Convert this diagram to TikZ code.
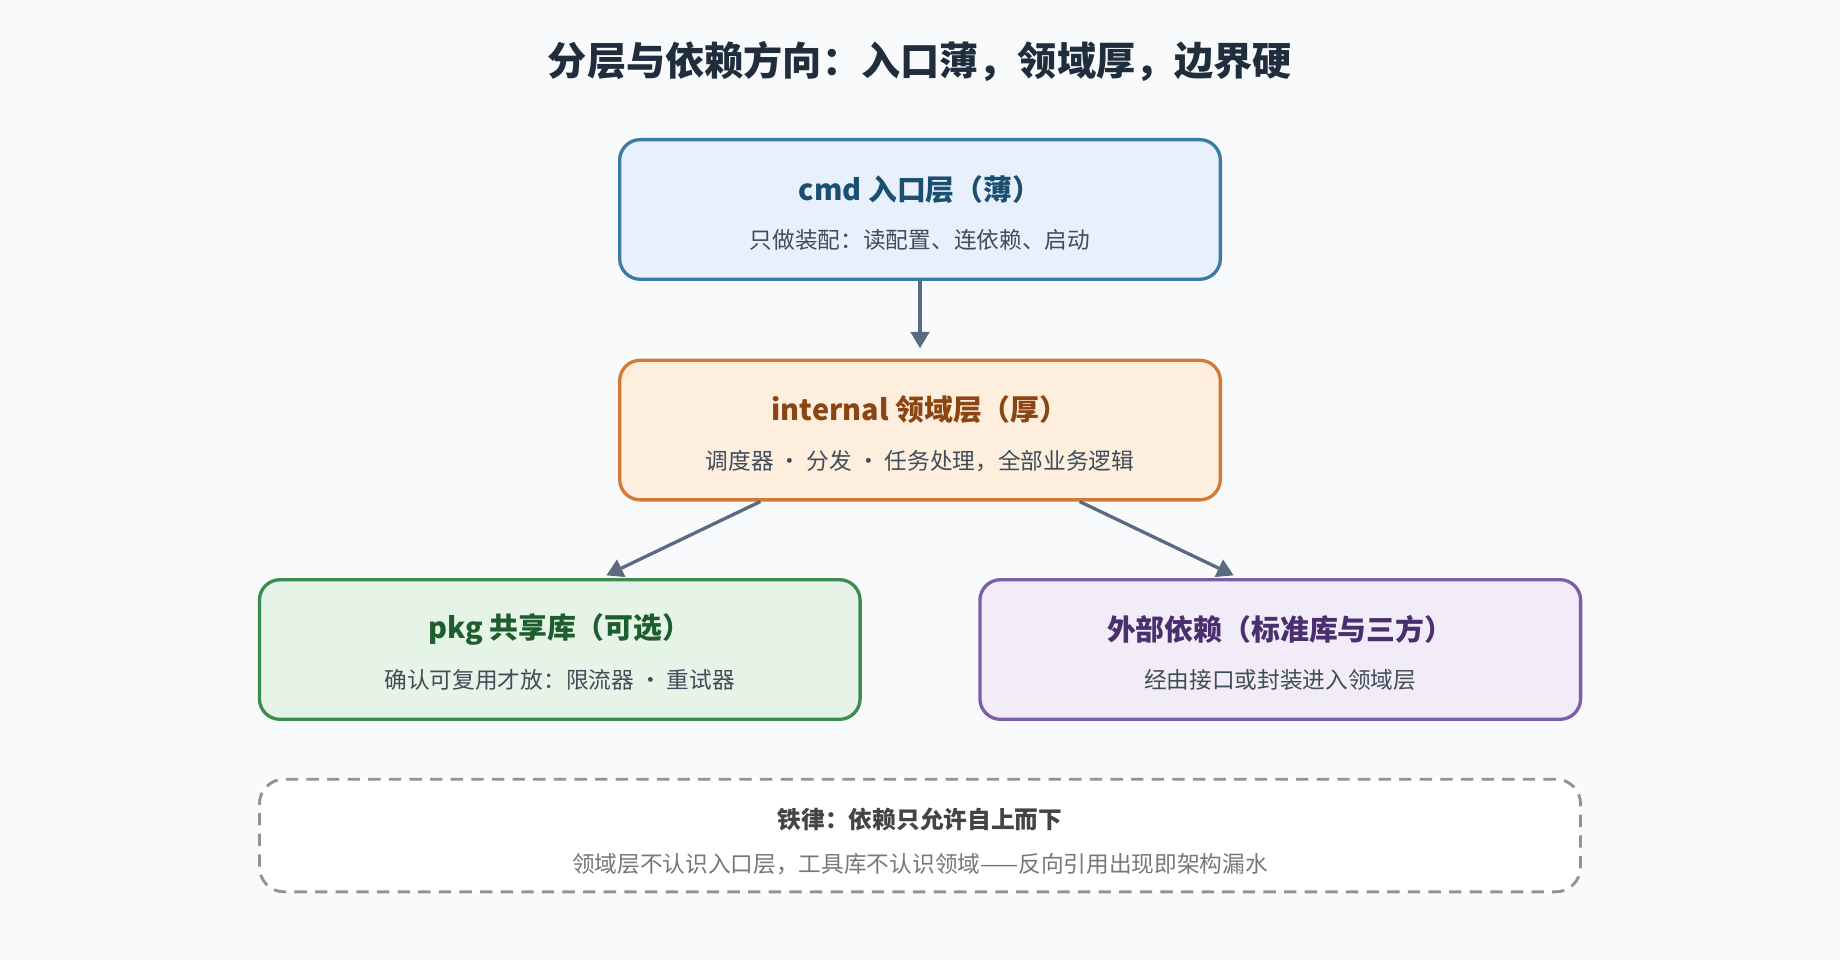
\documentclass[tikz,border=0pt]{standalone}
\usepackage{fontspec}
\setmainfont{Noto Sans CJK SC}
\usetikzlibrary{positioning,arrows.meta}
\definecolor{bgc}{HTML}{F8FAFC}
\definecolor{ink}{HTML}{1F2D3D}
\definecolor{arr}{HTML}{5A6A80}
\definecolor{cmdline}{HTML}{3A7CA5}\definecolor{cmdfill}{HTML}{E8F0FB}\definecolor{cmdtext}{HTML}{1A4F72}
\definecolor{intline}{HTML}{D07A35}\definecolor{intfill}{HTML}{FDEEDE}\definecolor{inttext}{HTML}{8B4513}
\definecolor{pkgline}{HTML}{3D8B4F}\definecolor{pkgfill}{HTML}{E6F4E8}\definecolor{pkgtext}{HTML}{1E5E2E}
\definecolor{extline}{HTML}{7B5EA7}\definecolor{extfill}{HTML}{F1ECF7}\definecolor{exttext}{HTML}{4A2F6F}
\definecolor{rulettl}{HTML}{444444}\definecolor{rulesub}{HTML}{777777}
\tikzset{
  layer/.style={draw, line width=1.6pt, rounded corners=10pt, minimum width=10.24cm, minimum height=2.38cm},
  ttl/.style={font=\fontsize{14}{16}\selectfont\bfseries},
  sub/.style={font=\fontsize{11}{13}\selectfont, text=ink!85},
  dep/.style={draw=arr, line width=1.6pt, -{Triangle[length=8pt,width=9pt]}}
}
\begin{document}
\begin{tikzpicture}[x=0.02cm,y=0.02cm]
\fill[bgc] (0,0) rectangle (1568,818);
\node[font=\fontsize{19}{22}\selectfont\bfseries, text=ink] (title) at (784,766) {分层与依赖方向：入口薄，领域厚，边界硬};
% layers
\node[layer, draw=cmdline, fill=cmdfill] (cmd) at (784,639.5) {};
\node[layer, draw=intline, fill=intfill] (internal) at (784,451.5) {};
\node[layer, draw=pkgline, fill=pkgfill] (pkg) at (477,264.5) {};
\node[layer, draw=extline, fill=extfill] (ext) at (1091,264.5) {};
\node[draw=gray!85, dash pattern=on 6pt off 4pt, line width=1.4pt, rounded corners=12pt, fill=white,
  minimum width=22.52cm, minimum height=1.92cm] (rule) at (784,106) {};
% texts
\node[ttl, text=cmdtext] at ([yshift=9.7pt]cmd.center) {cmd 入口层（薄）};
\node[sub] at ([yshift=-14.8pt]cmd.center) {只做装配：读配置、连依赖、启动};
\node[ttl, text=inttext] at ([yshift=9.7pt]internal.center) {internal 领域层（厚）};
\node[sub] at ([yshift=-14.8pt]internal.center) {调度器 · 分发 · 任务处理，全部业务逻辑};
\node[ttl, text=pkgtext] at ([yshift=9.7pt]pkg.center) {pkg 共享库（可选）};
\node[sub] at ([yshift=-14.8pt]pkg.center) {确认可复用才放：限流器 · 重试器};
\node[ttl, text=exttext] at ([yshift=9.7pt]ext.center) {外部依赖（标准库与三方）};
\node[sub] at ([yshift=-14.8pt]ext.center) {经由接口或封装进入领域层};
\node[font=\fontsize{11.5}{13}\selectfont\bfseries, text=rulettl] at ([yshift=8pt]rule.center) {铁律：依赖只允许自上而下};
\node[font=\fontsize{11}{13}\selectfont, text=rulesub] at ([yshift=-13.7pt]rule.center) {领域层不认识入口层，工具库不认识领域——反向引用出现即架构漏水};
% arrows
\draw[dep, shorten >=5pt] (cmd) -- (internal);
\draw[dep, shorten >=3pt] ([xshift=-77.4pt]internal.south) -- ([xshift=19.9pt]pkg.north);
\draw[dep, shorten >=3pt] ([xshift=77.4pt]internal.south) -- ([xshift=-19.9pt]ext.north);
\end{tikzpicture}
\end{document}
